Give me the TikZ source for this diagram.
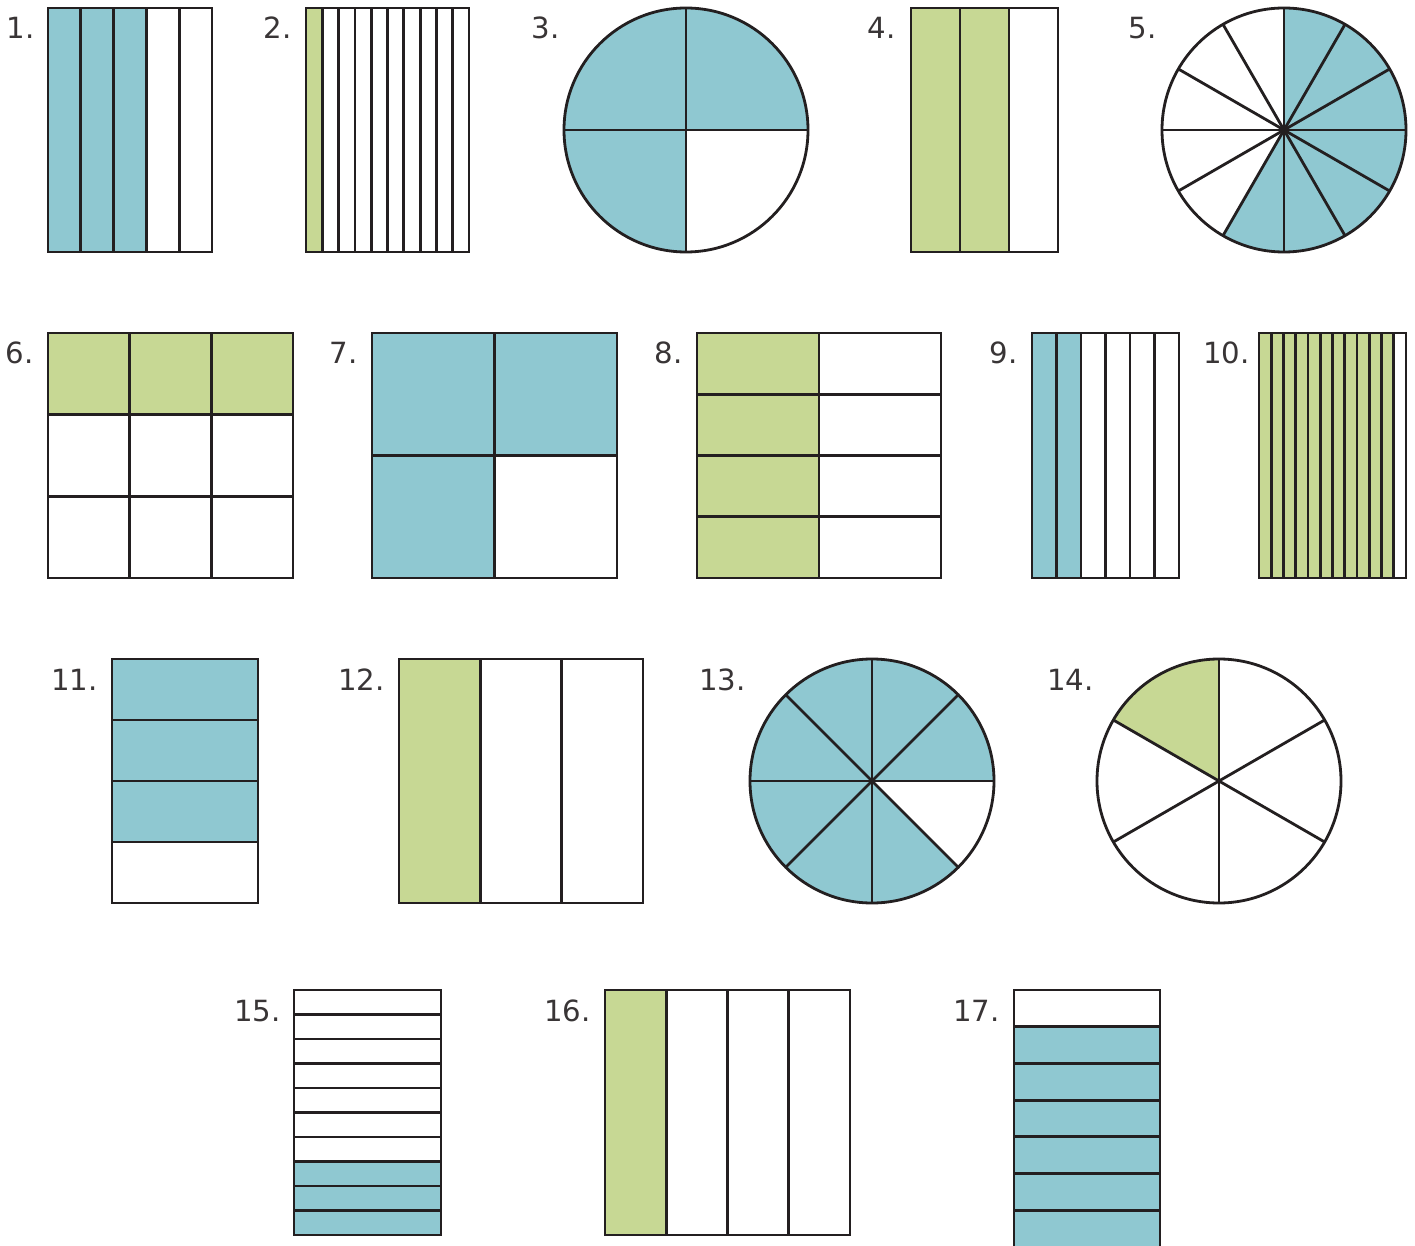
\documentclass[tikz,border=0pt]{standalone}
\usepackage{fontspec}
\setmainfont{DejaVu Sans}
\definecolor{fb}{HTML}{8FC8D1}
\definecolor{fg}{HTML}{C7D894}
\definecolor{ln}{HTML}{231F20}
\newcommand\vlin[5]{\pgfmathtruncatemacro\nm{#5-1}\foreach \i in {1,...,\nm}{\draw[edge] ({#1+(#3-#1)*\i/#5},#2) -- ({#1+(#3-#1)*\i/#5},#4);}}
\newcommand\hlin[5]{\pgfmathtruncatemacro\nm{#5-1}\foreach \i in {1,...,\nm}{\draw[edge] (#1,{#2+(#4-#2)*\i/#5}) -- (#3,{#2+(#4-#2)*\i/#5});}}
\begin{document}
\begin{tikzpicture}[x=0.5pt,y=-0.5pt,
  lbl/.style={anchor=base east, font=\fontsize{14.6}{16}\selectfont, text=ln!90, inner sep=0pt},
  edge/.style={draw=ln, line width=1.4pt, line join=miter}]
\clip (0,0) rectangle (1415,1246);
\fill[white] (0,0) rectangle (1415,1246);
% 1
\fill[fb] (48,8) rectangle (146.4,252);
\vlin{48}{8}{212}{252}{5}
\draw[edge] (48,8) rectangle (212,252);
\node[lbl] (l1) at (35,39) {1.};
% 2
\fill[fg] (306,8) rectangle (322.3,252);
\vlin{306}{8}{469}{252}{10}
\draw[edge] (306,8) rectangle (469,252);
\node[lbl] (l2) at (292,39) {2.};
% 3
\fill[fb] (686,130) -- ++(0:122) arc[start angle=0, end angle=-270, radius=122] -- cycle;
\draw[edge] (564,130) -- (808,130);
\draw[edge] (686,8) -- (686,252);
\draw[edge] (686,130) circle[radius=122];
\node[lbl] (l3) at (560,39) {3.};
% 4
\fill[fg] (911,8) rectangle (1009,252);
\vlin{911}{8}{1058}{252}{3}
\draw[edge] (911,8) rectangle (1058,252);
\node[lbl] (l4) at (896,39) {4.};
% 5
\fill[fb] (1284,130) -- ++(-90:122) arc[start angle=-90, end angle=120, radius=122] -- cycle;
\foreach \a in {0,30,...,150}{\draw[edge] (1284,130) ++(\a:122) -- ++(\a+180:244);}
\draw[edge] (1284,130) circle[radius=122];
\node[lbl] (l5) at (1157,39) {5.};
% 6
\fill[fg] (48,333) rectangle (293,414.7);
\vlin{48}{333}{293}{578}{3}
\hlin{48}{333}{293}{578}{3}
\draw[edge] (48,333) rectangle (293,578);
\node[lbl] (l6) at (34,364) {6.};
% 7
\fill[fb] (372,333) rectangle (617,455.5);
\fill[fb] (372,455.5) rectangle (494.5,578);
\vlin{372}{333}{617}{578}{2}
\hlin{372}{333}{617}{578}{2}
\draw[edge] (372,333) rectangle (617,578);
\node[lbl] (l7) at (358,364) {7.};
% 8
\fill[fg] (697,333) rectangle (819,578);
\vlin{697}{333}{941}{578}{2}
\hlin{697}{333}{941}{578}{4}
\draw[edge] (697,333) rectangle (941,578);
\node[lbl] (l8) at (683,364) {8.};
% 9
\fill[fb] (1032,333) rectangle (1081,578);
\vlin{1032}{333}{1179}{578}{6}
\draw[edge] (1032,333) rectangle (1179,578);
\node[lbl] (l9) at (1018,364) {9.};
% 10
\fill[fg] (1259,333) rectangle (1393.75,578);
\vlin{1259}{333}{1406}{578}{12}
\draw[edge] (1259,333) rectangle (1406,578);
\node[lbl] (l10) at (1250,364) {10.};
% 11
\fill[fb] (112,659) rectangle (258,842);
\hlin{112}{659}{258}{903}{4}
\draw[edge] (112,659) rectangle (258,903);
\node[lbl] (l11) at (98,690) {11.};
% 12
\fill[fg] (399,659) rectangle (480.3,903);
\vlin{399}{659}{643}{903}{3}
\draw[edge] (399,659) rectangle (643,903);
\node[lbl] (l12) at (385,690) {12.};
% 13
\fill[fb] (872,781) -- ++(45:122) arc[start angle=45, end angle=360, radius=122] -- cycle;
\foreach \a in {0,45,90,135}{\draw[edge] (872,781) ++(\a:122) -- ++(\a+180:244);}
\draw[edge] (872,781) circle[radius=122];
\node[lbl] (l13) at (746,690) {13.};
% 14
\fill[fg] (1219,781) -- ++(-90:122) arc[start angle=-90, end angle=-150, radius=122] -- cycle;
\foreach \a in {30,90,150}{\draw[edge] (1219,781) ++(\a:122) -- ++(\a+180:244);}
\draw[edge] (1219,781) circle[radius=122];
\node[lbl] (l14) at (1094,690) {14.};
% 15
\fill[fb] (294,1161.5) rectangle (441,1235);
\hlin{294}{990}{441}{1235}{10}
\draw[edge] (294,990) rectangle (441,1235);
\node[lbl] (l15) at (281,1021) {15.};
% 16
\fill[fg] (605,990) rectangle (666.25,1235);
\vlin{605}{990}{850}{1235}{4}
\draw[edge] (605,990) rectangle (850,1235);
\node[lbl] (l16) at (591,1021) {16.};
% 17
\fill[fb] (1014,1026.7) rectangle (1160,1283.6);
\hlin{1014}{990}{1160}{1283.6}{8}
\draw[edge] (1014,990) rectangle (1160,1283.6);
\node[lbl] (l17) at (1000,1021) {17.};
\end{tikzpicture}
\end{document}
